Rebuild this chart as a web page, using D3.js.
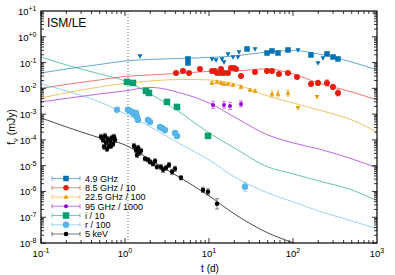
<!DOCTYPE html>
<html><head><meta charset="utf-8">
<script src="https://cdn.jsdelivr.net/npm/d3@7"></script>
<style>body{margin:0;background:#fff}svg{display:block}text{font-family:"Liberation Sans",Arial,sans-serif}</style>
</head><body><svg id="c" width="395" height="275"></svg>
<script>
// ---------- data ----------
const xTicks = [0.1, 1, 10, 100, 1000];
const xTickLabels = ["-1", "0", "1", "2", "3"];
const yTicks = [10, 1, 0.1, 1e-2, 1e-3, 1e-4, 1e-5, 1e-6, 1e-7, 1e-8];
const yTickLabels = ["+1", "+0", "-1", "-2", "-3", "-4", "-5", "-6", "-7", "-8"];
const seriesNames = ["4.9 GHz", "8.5 GHz / 10", "22.5 GHz / 100", "95 GHz / 1000", "i / 10", "r / 100", "5 keV"];
const tJetBreak = 1.086;

// model curves (mJy, scaled)
const modelT     = [0.1, 0.2, 0.5, 1, 2, 5, 10, 20, 50, 100, 200, 500, 1000];
const model49    = [0.0395, 0.0565, 0.0843, 0.115, 0.132, 0.144, 0.158, 0.180, 0.258, 0.294, 0.216, 0.105, 0.0516];
const model85    = [9.91e-3, 0.01416, 0.0212, 0.0289, 0.0330, 0.0395, 0.0452, 0.0472, 0.0565, 0.0362, 0.0162, 7.24e-3, 3.55e-3];
const model225   = [4.25e-3, 6.64e-3, 0.01132, 0.01549, 0.01936, 0.02213, 0.0212, 0.01483, 5.07e-3, 2.72e-3, 1.46e-3, 5.96e-4, 2.04e-4];
const model95    = [2.97e-3, 4.06e-3, 6.07e-3, 7.93e-3, 0.01084, 6.07e-3, 2.72e-3, 7.78e-4, 1.56e-4, 7.66e-5, 4.48e-5, 1.84e-5, 8.22e-6];
const modelI     = [0.165, 0.0807, 0.0362, 0.01936, 6.07e-3, 9.31e-4, 1.87e-4, 4.90e-5, 8.97e-6, 4.81e-6, 2.58e-6, 1.15e-6, 4.33e-7];
const modelR     = [0.01483, 7.93e-3, 2.97e-3, 1.02e-3, 3.19e-4, 5.85e-5, 1.68e-5, 3.68e-6, 8.83e-7, 3.95e-7, 1.77e-7, 7.24e-8, 3.55e-8];
const modelXT    = [0.1, 0.2, 0.5, 1, 2, 5, 10, 20, 50, 100, 200];
const modelX     = [7.13e-4, 3.19e-4, 1.20e-4, 6.40e-5, 1.68e-5, 2.82e-6, 6.75e-7, 1.35e-7, 2.48e-8, 1.02e-8, 4.56e-9];

// 4.9 GHz detections and upper limits
const d49T = [5.62, 5.62, 28.35, 49.04, 56.2, 66.3, 87.2, 163.8, 254, 299.4, 343.4];
const d49F = [0.138, 0.0964, 0.336, 0.235, 0.282, 0.235, 0.308, 0.197, 0.216, 0.165, 0.138];
const d49E = [0.05, 0.05, 0.04, 0.05, 0.04, 0.06, 0.04, 0.05, 0.04, 0.04, 0.04];
const u49T = [1.509, 10.86, 12.12, 14.28, 15.09, 16.84, 19.31, 22.14, 22.76, 35.3, 114.7, 198.5, 227.6];
const u49F = [0.180, 0.138, 0.126, 0.138, 0.105, 0.216, 0.165, 0.165, 0.258, 0.336, 0.308, 0.0964, 0.151];
// 8.5 GHz / 10
const d85T = [4.05, 4.90, 5.78, 7.81, 10.86, 11.79, 12.45, 13.9, 13.9, 15.09, 16.84, 18.28, 19.84, 20.96, 24.04, 35.3, 49.04, 56.2, 68.1, 87.2, 111.6, 163.8, 198.5, 254, 299.4, 343.4];
const d85F = [0.0395, 0.0472, 0.0395, 0.0565, 0.0472, 0.0472, 0.0395, 0.0565, 0.0395, 0.0395, 0.0395, 0.0618, 0.0618, 0.0565, 0.0303, 0.0432, 0.0472, 0.0472, 0.0362, 0.0395, 0.0277, 0.0148, 0.0162, 0.0162, 0.0113, 6.63e-3];
const d85E = [0.04, 0.04, 0.04, 0.04, 0.04, 0.04, 0.04, 0.04, 0.04, 0.04, 0.04, 0.04, 0.04, 0.04, 0.04, 0.04, 0.04, 0.04, 0.04, 0.04, 0.04, 0.08, 0.1, 0.12, 0.1, 0.12];
// 22.5 GHz / 100
const d225T = [10.86, 12.45, 13.9, 15.09, 16.84, 19.31, 24.04, 30.8, 35.3, 56.2, 66.3, 87.2];
const d225F = [0.0162, 0.0177, 0.0162, 0.0148, 0.0148, 0.01355, 0.01133, 8.67e-3, 7.93e-3, 6.06e-3, 6.06e-3, 6.63e-3];
const d225E = [0.04, 0.04, 0.04, 0.04, 0.04, 0.04, 0.05, 0.05, 0.05, 0.12, 0.12, 0.12];
const u225T = [114.7, 193];
const u225F = [1.74e-3, 4.65e-3];
// 95 GHz / 1000
const d95T = [11.16, 15.09, 17.78, 24.04];
const d95F = [2.28e-3, 2.28e-3, 2.08e-3, 2.49e-3];
const d95E = [0.14, 0.13, 0.14, 0.12];
// i / 10
const dIT = [1.056, 1.245, 1.778, 1.931, 3.16, 4.16, 9.73];
const dIF = [0.0177, 0.0162, 7.93e-3, 6.63e-3, 2.97e-3, 1.90e-3, 1.43e-4];
const dIE = [0.03, 0.03, 0.03, 0.03, 0.03, 0.03, 0.04];
// r / 100
const dRT = [0.803, 1.086, 1.147, 1.211, 1.28, 1.352, 1.39, 1.428, 1.878, 1.984, 2.61, 2.76, 2.99, 3.94, 4.16, 26.8];
const dRF = [1.46e-3, 1.46e-3, 1.33e-3, 1.22e-3, 1.02e-3, 1.11e-3, 7.78e-4, 5.96e-4, 5.96e-4, 4.99e-4, 3.19e-4, 2.92e-4, 2.44e-4, 1.87e-4, 1.43e-4, 1.51e-6];
const dRE = [0.03, 0.03, 0.03, 0.03, 0.03, 0.03, 0.05, 0.06, 0.03, 0.03, 0.03, 0.03, 0.03, 0.03, 0.03, 0.18];
// 5 keV
const dXT = [0.518, 0.547, 0.578, 0.594, 0.627, 0.645, 0.663, 0.700, 0.720, 0.760, 0.562, 0.611, 0.681, 0.740,
             1.28, 1.35, 1.43, 1.47, 1.55, 1.39, 1.73, 1.88, 1.98, 2.15, 2.28, 2.40,
             2.68, 2.84, 3.08, 3.34, 3.63, 3.94, 4.64, 8.48, 9.73, 12.45];
const dXF = [1.31e-4, 1.0e-4, 1.43e-4, 7.66e-5, 1.09e-4, 5.85e-5, 9.14e-5, 1.20e-4, 7.0e-5, 1.0e-4, 5.36e-5, 4.48e-5, 5.85e-5, 1.31e-4,
             5.85e-5, 4.09e-5, 4.90e-5, 3.13e-5, 3.75e-5, 2.62e-5, 1.84e-5, 1.68e-5, 1.40e-5, 1.17e-5, 1.53e-5, 8.97e-6,
             8.97e-6, 6.87e-6, 8.22e-6, 1.07e-5, 5.75e-6, 7.51e-6, 3.37e-6, 1.15e-6, 9.64e-7, 3.30e-7];
const dXE = [0.1, 0.1, 0.1, 0.1, 0.1, 0.1, 0.1, 0.1, 0.1, 0.1, 0.1, 0.1, 0.1, 0.1,
             0.1, 0.1, 0.1, 0.1, 0.1, 0.1, 0.08, 0.08, 0.08, 0.08, 0.08, 0.08,
             0.1, 0.1, 0.1, 0.1, 0.1, 0.1, 0.08, 0.1, 0.12, 0.2];

// ---------- drawing ----------
const M = {l: 41, r: 377, t: 11, b: 243};
const svg = d3.select("#c");
const x = d3.scaleLog().domain([0.1, 1000]).range([M.l, M.r]);
const y = d3.scaleLog().domain([1e-8, 10]).range([M.b, M.t]);

const C = {b: "#0072b2", r: "#e51e10", o: "#e69f00", p: "#9400d3", g: "#009e73", s: "#56b4e9", k: "#000000"};

svg.append("defs").append("clipPath").attr("id", "clip")
  .append("rect").attr("x", M.l).attr("y", M.t).attr("width", M.r - M.l).attr("height", M.b - M.t);

const plot = svg.append("g").attr("clip-path", "url(#clip)");

// dotted vertical line
plot.append("line").attr("x1", x(tJetBreak)).attr("x2", x(tJetBreak)).attr("y1", M.t).attr("y2", M.b)
  .attr("stroke", "#555").attr("stroke-width", 0.9).attr("stroke-dasharray", "1,2");

const line = d3.line().x(d => x(d[0])).y(d => y(d[1])).curve(d3.curveMonotoneX);
const models = [
  [modelT, model49, C.b], [modelT, model85, C.r], [modelT, model225, C.o], [modelT, model95, C.p],
  [modelT, modelI, C.g], [modelT, modelR, C.s], [modelXT, modelX, C.k]
];
models.forEach(([ts, fs, col]) => {
  plot.append("path").datum(ts.map((t, i) => [t, fs[i]]))
    .attr("d", line).attr("fill", "none").attr("stroke", col)
    .attr("stroke-width", 1).attr("stroke-opacity", col === C.k ? 0.7 : 0.6);
});

function marker(g, type, cx, cy, size, col) {
  if (type === "circle") {
    g.append("circle").attr("cx", cx).attr("cy", cy).attr("r", size / 2).attr("fill", col);
  } else if (type === "square") {
    g.append("rect").attr("x", cx - size / 2).attr("y", cy - size / 2).attr("width", size).attr("height", size).attr("fill", col);
  } else if (type === "up") {
    const h = size * 0.9;
    g.append("path").attr("d", `M${cx},${cy - h * 0.6}L${cx + size / 2},${cy + h * 0.4}L${cx - size / 2},${cy + h * 0.4}Z`).attr("fill", col);
  } else if (type === "down") {
    const h = size * 0.9;
    g.append("path").attr("d", `M${cx},${cy + h * 0.6}L${cx + size / 2},${cy - h * 0.4}L${cx - size / 2},${cy - h * 0.4}Z`).attr("fill", col);
  }
}

function drawSeries(ts, fs, es, col, type, size) {
  const g = plot.append("g");
  ts.forEach((t, i) => {
    const cx = x(t), cy = y(fs[i]);
    if (es) {
      const e = es[i];
      const y1 = y(fs[i] * Math.pow(10, e)), y2 = y(fs[i] / Math.pow(10, e));
      g.append("line").attr("x1", cx).attr("x2", cx).attr("y1", y1).attr("y2", y2).attr("stroke", col).attr("stroke-width", 0.8).attr("stroke-opacity", 0.6);
      [y1, y2].forEach(yy => g.append("line").attr("x1", cx - 2).attr("x2", cx + 2).attr("y1", yy).attr("y2", yy).attr("stroke", col).attr("stroke-width", 0.8).attr("stroke-opacity", 0.6));
    }
    marker(g, type, cx, cy, size, col);
  });
}

drawSeries(d49T, d49F, d49E, C.b, "square", 5.5);
drawSeries(u49T, u49F, null, C.b, "down", 5);
drawSeries(d85T, d85F, d85E, C.r, "circle", 6);
drawSeries(d225T, d225F, d225E, C.o, "up", 5);
drawSeries(u225T, u225F, null, C.o, "down", 5);
drawSeries(d95T, d95F, d95E, C.p, "circle", 4);
drawSeries(dIT, dIF, dIE, C.g, "square", 6.5);
drawSeries(dRT, dRF, dRE, C.s, "circle", 6.5);
drawSeries(dXT, dXF, dXE, C.k, "circle", 4.5);

// frame
svg.append("rect").attr("x", M.l).attr("y", M.t).attr("width", M.r - M.l).attr("height", M.b - M.t)
  .attr("fill", "none").attr("stroke", "#000").attr("stroke-width", 1.2);

// ticks (inward, mirrored)
const ax = svg.append("g").attr("stroke", "#000").attr("stroke-width", 0.8);
for (let d = -1; d < 3; d++) for (let m = 1; m <= 9; m++) {
  const v = m * Math.pow(10, d); const px = x(v); const len = m === 1 ? 5 : 3;
  ax.append("line").attr("x1", px).attr("x2", px).attr("y1", M.b).attr("y2", M.b - len);
  ax.append("line").attr("x1", px).attr("x2", px).attr("y1", M.t).attr("y2", M.t + len);
}
for (let d = -8; d < 1; d++) for (let m = 1; m <= 9; m++) {
  const v = m * Math.pow(10, d); const py = y(v); const len = m === 1 ? 5 : 3;
  ax.append("line").attr("x1", M.l).attr("x2", M.l + len).attr("y1", py).attr("y2", py);
  ax.append("line").attr("x1", M.r).attr("x2", M.r - len).attr("y1", py).attr("y2", py);
}
xTicks.forEach((v, i) => {
  const t = svg.append("text").attr("x", x(v)).attr("y", 257).attr("text-anchor", "middle").attr("font-size", 9.5);
  t.append("tspan").text("10");
  t.append("tspan").attr("dy", -4).attr("font-size", 7).text(xTickLabels[i]);
});
yTicks.forEach((v, i) => {
  const t = svg.append("text").attr("x", 36.5).attr("y", y(v) + 4).attr("text-anchor", "end").attr("font-size", 9.5);
  t.append("tspan").text("10");
  t.append("tspan").attr("dy", -4).attr("font-size", 7).text(yTickLabels[i]);
});

// axis titles
svg.append("text").attr("x", (M.l + M.r) / 2 + 1).attr("y", 272).attr("text-anchor", "middle").attr("font-size", 10).text("t (d)");
const yl = svg.append("text").attr("transform", "translate(15,127) rotate(-90)").attr("text-anchor", "middle").attr("font-size", 10.5);
yl.append("tspan").text("f");
yl.append("tspan").attr("dy", 2.5).attr("font-size", 7.5).text("ν");
yl.append("tspan").attr("dy", -2.5).text(" (mJy)");

svg.append("text").attr("x", 47).attr("y", 26.5).attr("font-size", 12).text("ISM/LE");

// legend
const legTypes = [["square", 5.5, C.b], ["circle", 5.5, C.r], ["up", 5, C.o], ["circle", 4, C.p], ["square", 6.5, C.g], ["circle", 6.5, C.s], ["circle", 4.5, C.k]];
const lg = svg.append("g");
seriesNames.forEach((name, i) => {
  const cy = 178.5 + i * 9.25;
  const [type, size, col] = legTypes[i];
  lg.append("line").attr("x1", 52).attr("x2", 80).attr("y1", cy).attr("y2", cy).attr("stroke", col).attr("stroke-width", 0.9).attr("stroke-opacity", 0.6);
  [52, 80].forEach(xx => lg.append("line").attr("x1", xx).attr("x2", xx).attr("y1", cy - 2.2).attr("y2", cy + 2.2).attr("stroke", col).attr("stroke-width", 0.9).attr("stroke-opacity", 0.6));
  marker(lg, type, 66, cy, size, col);
  lg.append("text").attr("x", 85).attr("y", cy + 3.3).attr("font-size", 9).text(name);
});
</script></body></html>
